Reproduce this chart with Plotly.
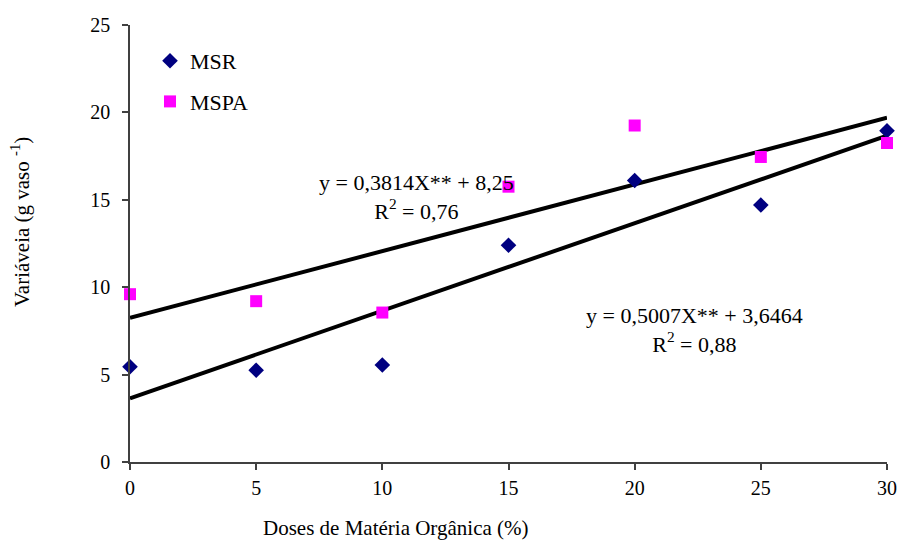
import plotly.graph_objects as go

doses = [0, 5, 10, 15, 20, 25, 30]
msr = [5.45, 5.25, 5.55, 12.4, 16.1, 14.7, 18.95]
mspa = [9.6, 9.2, 8.55, 15.75, 19.25, 17.45, 18.25]

# regression coefficients as printed on the chart
msr_slope, msr_intercept = 0.5007, 3.6464
mspa_slope, mspa_intercept = 0.3814, 8.25
fit_x = [0, 30]

x_ticks = [0, 5, 10, 15, 20, 25, 30]
y_ticks = [0, 5, 10, 15, 20, 25]

FONT = "Liberation Serif, Times New Roman, serif"
W, H = 899, 542
L, R, T, B = 130, 12, 25, 80
PW, PH = W - L - R, H - T - B


def px_x(v):
    return (v - L) / PW


def px_y(v):
    return (H - B - v) / PH


fig = go.Figure()
fig.add_trace(go.Scatter(
    x=fit_x, y=[mspa_slope * v + mspa_intercept for v in fit_x],
    mode="lines", line=dict(color="black", width=4), showlegend=False, hoverinfo="skip"))
fig.add_trace(go.Scatter(
    x=fit_x, y=[msr_slope * v + msr_intercept for v in fit_x],
    mode="lines", line=dict(color="black", width=4), showlegend=False, hoverinfo="skip"))
fig.add_trace(go.Scatter(
    x=doses, y=msr, mode="markers", name="MSR", legendgroup="a",
    marker=dict(symbol="diamond", size=12, color="#000080"), cliponaxis=False))
fig.add_trace(go.Scatter(
    x=doses, y=mspa, mode="markers", name="MSPA", legendgroup="b",
    marker=dict(symbol="square", size=12, color="#FF00FF"), cliponaxis=False))

fig.update_layout(
    width=W, height=H,
    margin=dict(l=L, r=R, t=T, b=B),
    plot_bgcolor="white", paper_bgcolor="white",
    font=dict(family=FONT, size=20, color="black"),
    legend=dict(x=px_x(150), y=px_y(40), xanchor="left", yanchor="top",
                bgcolor="rgba(0,0,0,0)", font=dict(size=22, family=FONT),
                tracegroupgap=9, itemwidth=30),
    annotations=[
        dict(x=11.34, y=15.17, xref="x", yref="y",
             text="y = 0,3814X** + 8,25<br>R<sup>2</sup> = 0,76",
             showarrow=False, font=dict(size=22, family=FONT), align="center",
             xanchor="center", yanchor="middle"),
        dict(x=22.36, y=7.53, xref="x", yref="y",
             text="y = 0,5007X** + 3,6464<br>R<sup>2</sup> = 0,88",
             showarrow=False, font=dict(size=22, family=FONT), align="center",
             xanchor="center", yanchor="middle"),
        dict(x=px_x(396), y=px_y(528), xref="paper", yref="paper",
             xanchor="center", yanchor="middle",
             text="Doses de Matéria Orgânica (%)",
             showarrow=False, font=dict(size=21, family=FONT)),
        dict(x=px_x(20), y=px_y(222), xref="paper", yref="paper",
             xanchor="center", yanchor="middle",
             text="Variáveia (g vaso <sup>-1</sup>)",
             showarrow=False, textangle=-90, font=dict(size=21, family=FONT)),
    ],
)

fig.update_xaxes(range=[0, 30], tickvals=x_ticks, showgrid=False, zeroline=False,
                 showline=True, linecolor="#404040", linewidth=1.5,
                 ticks="outside", ticklen=6, tickcolor="#404040", tickwidth=1.5,
                 tickfont=dict(size=20, family=FONT), ticklabelstandoff=1,
                 automargin=False)
fig.update_yaxes(range=[0, 25], tickvals=y_ticks, showgrid=False, zeroline=False,
                 showline=True, linecolor="#404040", linewidth=1.5,
                 ticks="outside", ticklen=6, tickcolor="#404040", tickwidth=1.5,
                 tickfont=dict(size=20, family=FONT), ticklabelstandoff=8,
                 automargin=False)

fig.write_html(
    "out.html",
    config={"displayModeBar": False},
    post_script="document.body.style.margin='0';document.body.style.overflow='hidden';",
)
